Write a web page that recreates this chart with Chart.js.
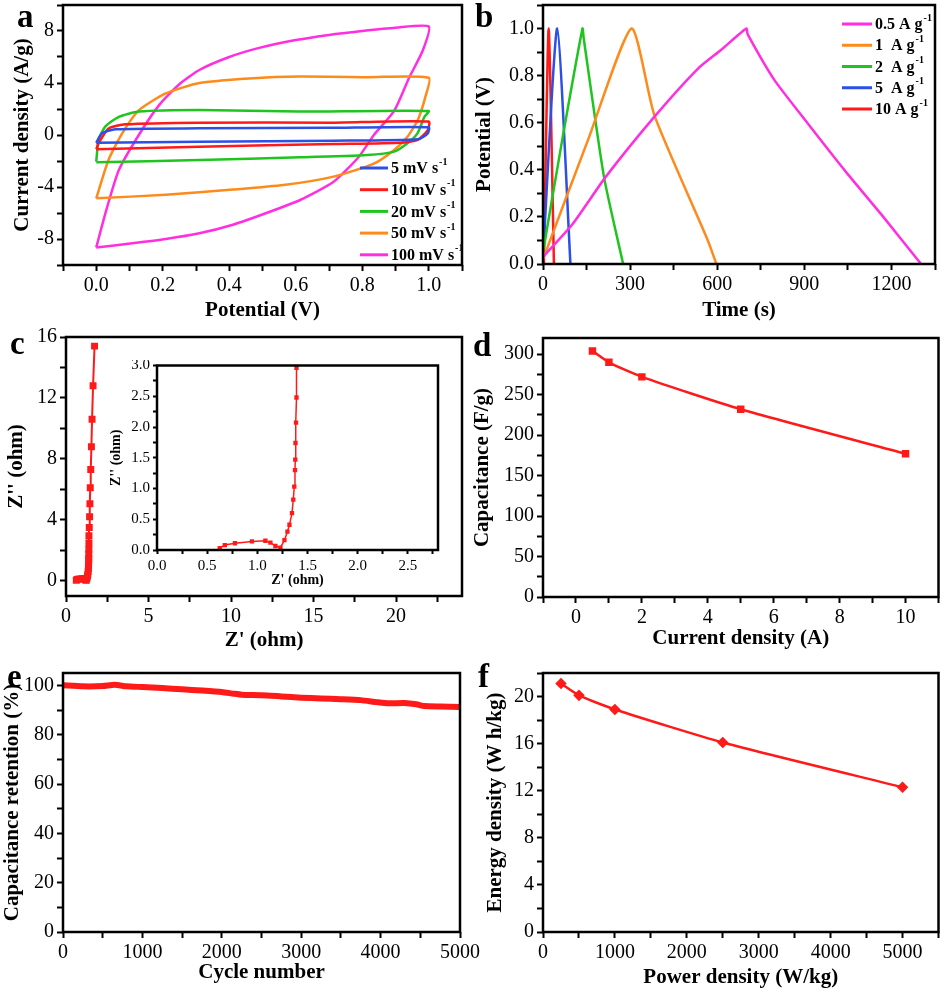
<!DOCTYPE html>
<html>
<head>
<meta charset="utf-8">
<script src="https://cdn.jsdelivr.net/npm/chart.js@4.4.0/dist/chart.umd.min.js"></script>
<style>
  body { margin: 0; background: #fff; }
  #wrap { position: relative; width: 945px; height: 992px; overflow: hidden; background: #fff; }
  canvas { position: absolute; }
  .tag { position: absolute; font: bold 33px 'Liberation Serif', 'Times New Roman', serif; color: #000; line-height: 1; }
</style>
</head>
<body>
<div id="wrap">
  <canvas id="chartCV" width="470" height="325" style="left:0;top:0"></canvas>
  <canvas id="chartGCD" width="475" height="325" style="left:470px;top:0"></canvas>
  <canvas id="chartEIS" width="470" height="330" style="left:0;top:325px"></canvas>
  <canvas id="chartCap" width="475" height="330" style="left:470px;top:325px"></canvas>
  <canvas id="chartCycle" width="490" height="337" style="left:0;top:655px"></canvas>
  <canvas id="chartRagone" width="475" height="337" style="left:470px;top:655px"></canvas>
  <canvas id="chartInset" width="340" height="230" style="left:105px;top:360px"></canvas>
  <div class="tag" style="left:17px;top:0">a</div>
  <div class="tag" style="left:475px;top:0">b</div>
  <div class="tag" style="left:10px;top:327px">c</div>
  <div class="tag" style="left:473px;top:329px">d</div>
  <div class="tag" style="left:7px;top:660px">e</div>
  <div class="tag" style="left:478px;top:660px">f</div>
</div>
<script>
// (a) CV curves, potential (V) vs current density (A/g)
var cv5V = [0, 0.017, 0.058, 0.31, 0.7, 1.0, 0.997, 0.967, 0.714, 0.31, 0];
var cv5I = [-0.6, 0.13, 0.44, 0.51, 0.55, 0.6, 0.13, -0.33, -0.44, -0.51, -0.6];
var cv10V = [0, 0.007, 0.037, 0.088, 0.31, 0.714, 1.0, 0.997, 0.967, 0.916, 0.714, 0.31, 0];
var cv10I = [-1.1, -0.64, 0.5, 0.82, 0.95, 0.95, 1.03, 0.38, -0.38, -0.6, -0.7, -0.9, -1.1];
var cv20V = [0, 0.007, 0.027, 0.068, 0.128, 0.31, 0.61, 1.0, 0.987, 0.966, 0.936, 0.896, 0.815, 0.613, 0.31, 0];
var cv20I = [-2.05, -0.38, 0.64, 1.4, 1.8, 1.92, 1.8, 1.85, 1.4, 0.13, -0.64, -1.28, -1.54, -1.72, -1.92, -2.1];
var cv50V = [0, 0.037, 0.078, 0.128, 0.209, 0.31, 0.46, 0.61, 0.815, 1.0, 0.99, 0.967, 0.936, 0.896, 0.835, 0.714, 0.563, 0.411, 0.209, 0];
var cv50I = [-4.87, -1.9, 0.13, 1.9, 3.2, 4.0, 4.35, 4.5, 4.45, 4.4, 2.95, 1.15, -0.13, -1.15, -2.2, -3.2, -3.85, -4.2, -4.6, -4.87];
var cv100V = [0, 0.03, 0.068, 0.128, 0.189, 0.25, 0.31, 0.4, 0.49, 0.6, 0.7, 0.8, 0.9, 1.0,
              0.982, 0.941, 0.896, 0.835, 0.79, 0.714, 0.613, 0.512, 0.411, 0.31, 0.209, 0.108, 0];
var cv100I = [-8.65, -5.8, -2.7, 0, 2.3, 3.9, 5.0, 6.0, 6.7, 7.3, 7.7, 8.0, 8.25, 8.35,
              6.5, 4.4, 1.85, 0, -1.67, -3.6, -5.0, -6.0, -6.9, -7.56, -8.0, -8.33, -8.65];
var cvLabels = ['5 mV s', '10 mV s', '20 mV s', '50 mV s', '100 mV s'];

// (b) charge / discharge, time (s) vs potential (V)
var gcd05T = [0, 102, 216, 387, 534, 614, 700, 705, 796, 910, 1046, 1172, 1302];
var gcd05V = [0.03, 0.17, 0.37, 0.63, 0.83, 0.91, 1.0, 0.975, 0.783, 0.6, 0.387, 0.2, 0];
var gcd1T = [0, 159, 305, 384, 569, 597];
var gcd1V = [0.02, 0.54, 1.0, 0.63, 0.096, 0];
var gcd2T = [0, 68, 136, 140, 210, 276];
var gcd2V = [0.05, 0.54, 1.0, 0.96, 0.37, 0];
var gcd5T = [0, 49, 94.5];
var gcd5V = [0.03, 1.0, 0];
var gcd10T = [3, 19.5, 37.7];
var gcd10V = [0, 1.0, 0];
var gcdLabels = ['0.5 A g', '1  A g', '2  A g', '5  A g', '10 A g'];

// (c) Nyquist plot
var eisRe = [0.625, 0.676, 0.777, 0.946, 1.08, 1.13, 1.18, 1.23, 1.27, 1.30, 1.32, 1.345, 1.358, 1.368, 1.375, 1.378, 1.38, 1.385, 1.39, 1.39, 1.41, 1.43, 1.45, 1.47, 1.50, 1.54, 1.58, 1.64, 1.73];
var eisIm = [0.03, 0.08, 0.11, 0.14, 0.15, 0.12, 0.065, 0.04, 0.16, 0.30, 0.41, 0.6, 0.82, 1.03, 1.3, 1.47, 1.74, 2.07, 2.48, 2.96, 3.5, 4.2, 5.05, 6.1, 7.3, 8.8, 10.6, 12.8, 15.4];

// (d) capacitance vs current density
var currentDensity = [0.5, 1, 2, 5, 10];
var capacitance = [304, 290, 272, 232, 177];

// (e) cycling
var cycles = [0, 250, 500, 650, 800, 1000, 1250, 1500, 1750, 2000, 2150, 2250, 2500, 2750, 3000, 3250, 3500, 3750, 3950, 4100, 4300, 4450, 4550, 4750, 5000];
var retention = [100, 99.6, 99.7, 100.2, 99.6, 99.3, 98.9, 98.4, 97.9, 97.3, 96.6, 96.2, 96.0, 95.5, 95.0, 94.7, 94.4, 94.0, 93.2, 92.7, 92.8, 92.3, 91.6, 91.4, 91.2];

// (f) Ragone
var powerDensity = [250, 500, 1000, 2500, 5000];
var energyDensity = [21.1, 20.1, 18.9, 16.1, 12.3];

var serif = "'Liberation Serif', 'Times New Roman', serif";
var cBlue = '#2c4fe6', cRed = '#ff1a1a', cGreen = '#1fc41f', cOrange = '#ff8a1c', cPink = '#ff2fe0';

function pts(xs, ys) {
    return xs.map(function (x, i) { return { x: x, y: ys[i] }; });
}

function makeAxis(o) {
    return {
        type: 'linear',
        position: o.pos,
        min: o.min,
        max: o.max,
        afterFit: function (scale) {
            if (o.pos === 'bottom') {
                scale.height = o.size;
                scale.paddingLeft = 0;
                scale.paddingRight = 0;
            } else {
                scale.width = o.size;
                scale.paddingTop = 0;
                scale.paddingBottom = 0;
            }
        },
        grid: { display: true, drawOnChartArea: false, drawTicks: true, tickLength: o.tickLen || 6, tickColor: '#000', tickWidth: 2 },
        border: { display: false },
        ticks: {
            stepSize: o.step,
            autoSkip: false,
            includeBounds: false,
            maxRotation: 0,
            minRotation: 0,
            color: '#000',
            padding: 3,
            font: { family: serif, size: o.fontSize || 20 },
            callback: function (v) { return o.label(v); }
        },
        title: {
            display: true,
            text: o.title,
            color: '#000',
            font: { family: serif, size: o.titleSize || 21, weight: 'bold' },
            padding: o.titlePad
        }
    };
}

// black box around every plot
var frame = {
    id: 'frame',
    afterDraw: function (chart) {
        var a = chart.chartArea, ctx = chart.ctx;
        ctx.save();
        ctx.strokeStyle = '#000';
        ctx.lineWidth = 2.5;
        ctx.strokeRect(a.left, a.top, a.right - a.left, a.bottom - a.top);
        ctx.restore();
    }
};

// small legend drawn inside the plot, with "-1" superscript
var miniLegend = {
    id: 'miniLegend',
    afterDraw: function (chart, args, opts) {
        if (!opts || opts.x === undefined) return;
        var ctx = chart.ctx;
        ctx.save();
        chart.data.datasets.forEach(function (ds, i) {
            var y = opts.y + i * opts.dy;
            ctx.strokeStyle = ds.borderColor;
            ctx.lineWidth = 3;
            ctx.beginPath();
            ctx.moveTo(opts.x, y);
            ctx.lineTo(opts.x + opts.len, y);
            ctx.stroke();
            ctx.fillStyle = '#000';
            ctx.textAlign = 'left';
            ctx.textBaseline = 'middle';
            ctx.font = 'bold 16px ' + serif;
            var tx = opts.x + opts.len + 3;
            ctx.fillText(ds.label, tx, y + 1);
            var w = ctx.measureText(ds.label).width;
            ctx.font = 'bold 10px ' + serif;
            ctx.fillText('-1', tx + w + 1, y - 6);
        });
        ctx.restore();
    }
};

Chart.register(frame, miniLegend);

function baseOptions(pad, xAxis, yAxis, legend) {
    return {
        responsive: false,
        animation: false,
        layout: { padding: pad },
        plugins: { legend: { display: false }, tooltip: { enabled: false }, miniLegend: legend || {} },
        scales: { x: xAxis, y: yAxis }
    };
}

function lineSet(label, xs, ys, color, width) {
    return { label: label, data: pts(xs, ys), showLine: true, borderColor: color, backgroundColor: color, borderWidth: width || 2.5, pointRadius: 0, tension: 0.2 };
}

// (a)
new Chart(document.getElementById('chartCV'), {
    type: 'scatter',
    data: {
        datasets: [
            lineSet(cvLabels[0], cv5V, cv5I, cBlue),
            lineSet(cvLabels[1], cv10V, cv10I, cRed),
            lineSet(cvLabels[2], cv20V, cv20I, cGreen),
            lineSet(cvLabels[3], cv50V, cv50I, cOrange),
            lineSet(cvLabels[4], cv100V, cv100I, cPink)
        ]
    },
    options: baseOptions({ left: 0, top: 5, right: 8, bottom: 0 },
        makeAxis({ pos: 'bottom', min: -0.1, max: 1.1, step: 0.1, size: 60, title: 'Potential (V)', titlePad: 2,
            label: function (v) { var k = Math.round(v * 10); return (k % 2 === 0 && k >= 0 && k <= 10) ? (k / 10).toFixed(1) : ''; } }),
        makeAxis({ pos: 'left', min: -10, max: 10, step: 2, size: 63, title: 'Current density (A/g)', titlePad: 10,
            label: function (v) { return (Math.round(v) % 4 === 0 && Math.abs(v) <= 8) ? String(v) : ''; } }),
        { x: 360, y: 168, dy: 21.7, len: 28 })
});

// (b)
new Chart(document.getElementById('chartGCD'), {
    type: 'scatter',
    data: {
        datasets: [
            lineSet(gcdLabels[0], gcd05T, gcd05V, cPink),
            lineSet(gcdLabels[1], gcd1T, gcd1V, cOrange),
            lineSet(gcdLabels[2], gcd2T, gcd2V, cGreen),
            lineSet(gcdLabels[3], gcd5T, gcd5V, cBlue),
            lineSet(gcdLabels[4], gcd10T, gcd10V, cRed)
        ]
    },
    options: baseOptions({ left: 0, top: 5, right: 10, bottom: 0 },
        makeAxis({ pos: 'bottom', min: 0, max: 1350, step: 150, size: 61, title: 'Time (s)', titlePad: 2,
            label: function (v) { var k = Math.round(v); return (k % 300 === 0 && k <= 1200) ? String(k) : ''; } }),
        makeAxis({ pos: 'left', min: 0, max: 1.1, step: 0.1, size: 73, title: 'Potential (V)', titlePad: 2,
            label: function (v) { var k = Math.round(v * 10); return (k % 2 === 0 && k <= 10) ? (k / 10).toFixed(1) : ''; } }),
        { x: 372, y: 24, dy: 21.25, len: 30 })
});

// (c) main
new Chart(document.getElementById('chartEIS'), {
    type: 'scatter',
    data: {
        datasets: [{ label: 'EIS', data: pts(eisRe, eisIm), showLine: true, borderColor: cRed, backgroundColor: cRed, borderWidth: 2, pointStyle: 'rect', pointRadius: 3.5, tension: 0 }]
    },
    options: baseOptions({ left: 0, top: 12, right: 8, bottom: 0 },
        makeAxis({ pos: 'bottom', min: 0, max: 24, step: 2.5, size: 59, title: "Z' (ohm)", titlePad: 2,
            label: function (v) { return (v % 5 === 0) ? String(v) : ''; } }),
        makeAxis({ pos: 'left', min: -1, max: 16, step: 2, size: 66, title: "Z'' (ohm)", titlePad: 4,
            label: function (v) { return (v >= 0 && v % 4 === 0) ? String(v) : ''; } }))
});

// (c) inset
new Chart(document.getElementById('chartInset'), {
    type: 'scatter',
    data: {
        datasets: [{ label: 'EIS', data: pts(eisRe, eisIm), showLine: true, borderColor: cRed, backgroundColor: cRed, borderWidth: 1.5, pointStyle: 'rect', pointRadius: 2, tension: 0 }]
    },
    options: baseOptions({ left: 0, top: 5, right: 7, bottom: 0 },
        makeAxis({ pos: 'bottom', min: 0, max: 2.8, step: 0.25, size: 40, tickLen: 4, fontSize: 15, titleSize: 14, title: "Z' (ohm)", titlePad: 1,
            label: function (v) { var k = Math.round(v * 4); return (k % 2 === 0) ? (k / 4).toFixed(1) : ''; } }),
        makeAxis({ pos: 'left', min: 0, max: 3, step: 0.25, size: 52, tickLen: 4, fontSize: 15, titleSize: 14, title: "Z'' (ohm)", titlePad: 3,
            label: function (v) { var k = Math.round(v * 4); return (k % 2 === 0) ? (k / 4).toFixed(1) : ''; } }))
});

// (d)
new Chart(document.getElementById('chartCap'), {
    type: 'scatter',
    data: {
        datasets: [{ label: 'Capacitance', data: pts(currentDensity, capacitance), showLine: true, borderColor: cRed, backgroundColor: cRed, borderWidth: 2.5, pointStyle: 'rect', pointRadius: 3.5, tension: 0.2 }]
    },
    options: baseOptions({ left: 0, top: 13, right: 5, bottom: 0 },
        makeAxis({ pos: 'bottom', min: -1, max: 11, step: 1, size: 58, title: 'Current density (A)', titlePad: 4,
            label: function (v) { return (v >= 0 && v <= 10 && v % 2 === 0) ? String(v) : ''; } }),
        makeAxis({ pos: 'left', min: 0, max: 320, step: 25, size: 73, title: 'Capacitance (F/g)', titlePad: 0,
            label: function (v) { return (v % 50 === 0 && v <= 300) ? String(v) : ''; } }))
});

// (e)
new Chart(document.getElementById('chartCycle'), {
    type: 'scatter',
    data: {
        datasets: [{ label: 'Retention', data: pts(cycles, retention), showLine: true, borderColor: cRed, backgroundColor: cRed, borderWidth: 6, pointRadius: 0, tension: 0.2 }]
    },
    options: baseOptions({ left: 0, top: 18, right: 30, bottom: 0 },
        makeAxis({ pos: 'bottom', min: 0, max: 5000, step: 500, size: 60, title: 'Cycle number', titlePad: 7,
            label: function (v) { return (v % 1000 === 0) ? String(v) : ''; } }),
        makeAxis({ pos: 'left', min: 0, max: 105, step: 10, size: 63, title: 'Capacitance retention (%)', titlePad: 0,
            label: function (v) { return (v % 20 === 0 && v <= 100) ? String(v) : ''; } }))
});

// (f)
new Chart(document.getElementById('chartRagone'), {
    type: 'scatter',
    data: {
        datasets: [{ label: 'Energy', data: pts(powerDensity, energyDensity), showLine: true, borderColor: cRed, backgroundColor: cRed, borderWidth: 2.5, pointStyle: 'rectRot', pointRadius: 4, tension: 0.2 }]
    },
    options: baseOptions({ left: 0, top: 18, right: 5, bottom: 0 },
        makeAxis({ pos: 'bottom', min: 0, max: 5500, step: 500, size: 60, title: 'Power density (W/kg)', titlePad: 2,
            label: function (v) { return (v % 1000 === 0 && v <= 5000) ? String(v) : ''; } }),
        makeAxis({ pos: 'left', min: 0, max: 22, step: 2, size: 73, title: 'Energy density (W h/kg)', titlePad: 13,
            label: function (v) { return (v % 4 === 0 && v <= 20) ? String(v) : ''; } }))
});
</script>
</body>
</html>
